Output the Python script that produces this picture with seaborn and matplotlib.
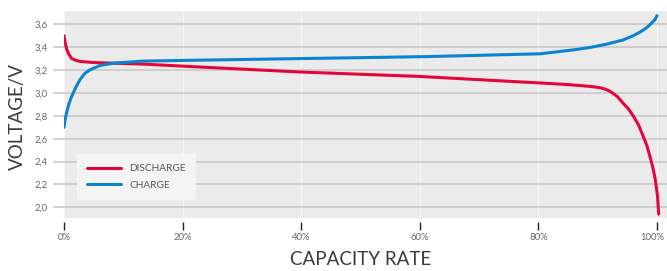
import matplotlib
matplotlib.use("Agg")
import matplotlib.pyplot as plt
import matplotlib.transforms as mtransforms
import seaborn as sns
import pandas as pd

# Discharge curve (capacity %, voltage)
discharge_x = [0, 0.2, 0.46, 0.8, 1.3, 2.0, 2.7, 4.9, 8.3, 13.3, 21.2, 39.8, 60.0,
               80.3, 85.0, 88.7, 90.4, 91.3, 92.1, 93.3, 94.3, 95.2, 96.0, 96.9,
               97.7, 98.3, 98.8, 99.3, 99.7, 100.1, 100.3]
discharge_v = [3.50, 3.44, 3.38, 3.34, 3.30, 3.285, 3.275, 3.266, 3.26, 3.252, 3.231,
               3.183, 3.144, 3.087, 3.073, 3.057, 3.046, 3.033, 3.014, 2.97, 2.91,
               2.86, 2.80, 2.72, 2.62, 2.54, 2.45, 2.35, 2.25, 2.10, 1.94]

# Charge curve
charge_x = [0, 0.2, 0.46, 0.8, 1.3, 2.0, 2.7, 3.5, 4.4, 6.1, 8.3, 13.3, 21.2, 39.8,
            61.7, 80.3, 85.9, 89.0, 91.5, 94.3, 96.0, 97.1, 98.0, 98.8, 99.7, 100.0]
charge_v = [2.70, 2.77, 2.83, 2.90, 2.97, 3.05, 3.116, 3.17, 3.203, 3.24, 3.26, 3.278,
            3.285, 3.30, 3.318, 3.342, 3.376, 3.40, 3.426, 3.463, 3.50, 3.53, 3.56,
            3.594, 3.643, 3.675]

series_names = ["DISCHARGE", "CHARGE"]
colors = ["#e3063a", "#0b84cf"]
x_ticks = [0, 20, 40, 60, 80, 100]
x_tick_labels = ["0%", "20%", "40%", "60%", "80%", "100%"]
y_ticks = [2.0, 2.2, 2.4, 2.6, 2.8, 3.0, 3.2, 3.4, 3.6]
y_tick_labels = ["2,0", "2,2", "2,4", "2,6", "2,8", "3,0", "3,2", "3,4", "3,6"]

df = pd.concat([
    pd.DataFrame({"capacity": discharge_x, "voltage": discharge_v, "series": series_names[0]}),
    pd.DataFrame({"capacity": charge_x, "voltage": charge_v, "series": series_names[1]}),
], ignore_index=True)

sns.set_theme(style="white")
plt.rcParams["font.family"] = ["Lato", "DejaVu Sans"]

W, H = 667, 271
fig = plt.figure(figsize=(W / 100, H / 100), dpi=100)
ax = fig.add_axes([64 / W, 1 - 218 / H, (667 - 64) / W, (218 - 11) / H])
ax.set_facecolor("#ebebeb")

sns.lineplot(data=df, x="capacity", y="voltage", hue="series", hue_order=series_names,
             palette=colors, linewidth=2.2, sort=False, estimator=None, ax=ax,
             legend=True)

ax.set_xlim(0, 101.7)
ax.set_ylim(1.907, 3.716)

ax.set_xticks(x_ticks)
ax.set_xticklabels(x_tick_labels)
ax.set_yticks(y_ticks)
ax.set_yticklabels(y_tick_labels)

for s in ["top", "right", "left"]:
    ax.spines[s].set_visible(False)
ax.spines["bottom"].set_position(("outward", 3))
ax.spines["bottom"].set_visible(False)

ax.grid(axis="y", color="#c9c9c9", linewidth=1.2)
ax.grid(axis="x", color="#f7f7f7", linewidth=0.8)
ax.set_axisbelow(True)

ax.tick_params(axis="x", direction="out", length=6, width=1.0, color="#222222",
               labelsize=6.8, labelcolor="#666666", pad=2, bottom=True)
ax.tick_params(axis="y", direction="out", length=8, width=1.2, color="#c9c9c9",
               labelsize=6.8, labelcolor="#666666", pad=4, left=True)

# last x label sits slightly left of its tick, as in the reference
last = ax.get_xticklabels()[-1]
last.set_transform(last.get_transform() + mtransforms.ScaledTranslation(-5 / 100, 0, fig.dpi_scale_trans))

ax.set_xlabel("CAPACITY RATE", fontsize=13.5, color="#3a3a3a")
ax.set_ylabel("VOLTAGE/V", fontsize=13.5, color="#3a3a3a")
ax.xaxis.set_label_coords((361 - 64) / (667 - 64), -(251 - 218) / (218 - 11))
ax.yaxis.set_label_coords(-(64 - 26) / (667 - 64), (218 - 116) / (218 - 11))

leg = ax.legend(loc="upper left", bbox_to_anchor=(77 / W, 1 - 154 / H),
                bbox_transform=fig.transFigure, frameon=True, fontsize=7.3,
                handlelength=3.3, handletextpad=0.85, borderpad=1.0, labelspacing=0.75,
                borderaxespad=0, title=None)
leg.get_frame().set_facecolor("#f4f4f4")
leg.get_frame().set_edgecolor("none")
leg.get_frame().set_alpha(1)
leg.get_frame().set_boxstyle("square", pad=0)
for t in leg.get_texts():
    t.set_color("#555555")
for l in leg.get_lines():
    l.set_linewidth(2.2)

fig.savefig("out.png", dpi=100)
